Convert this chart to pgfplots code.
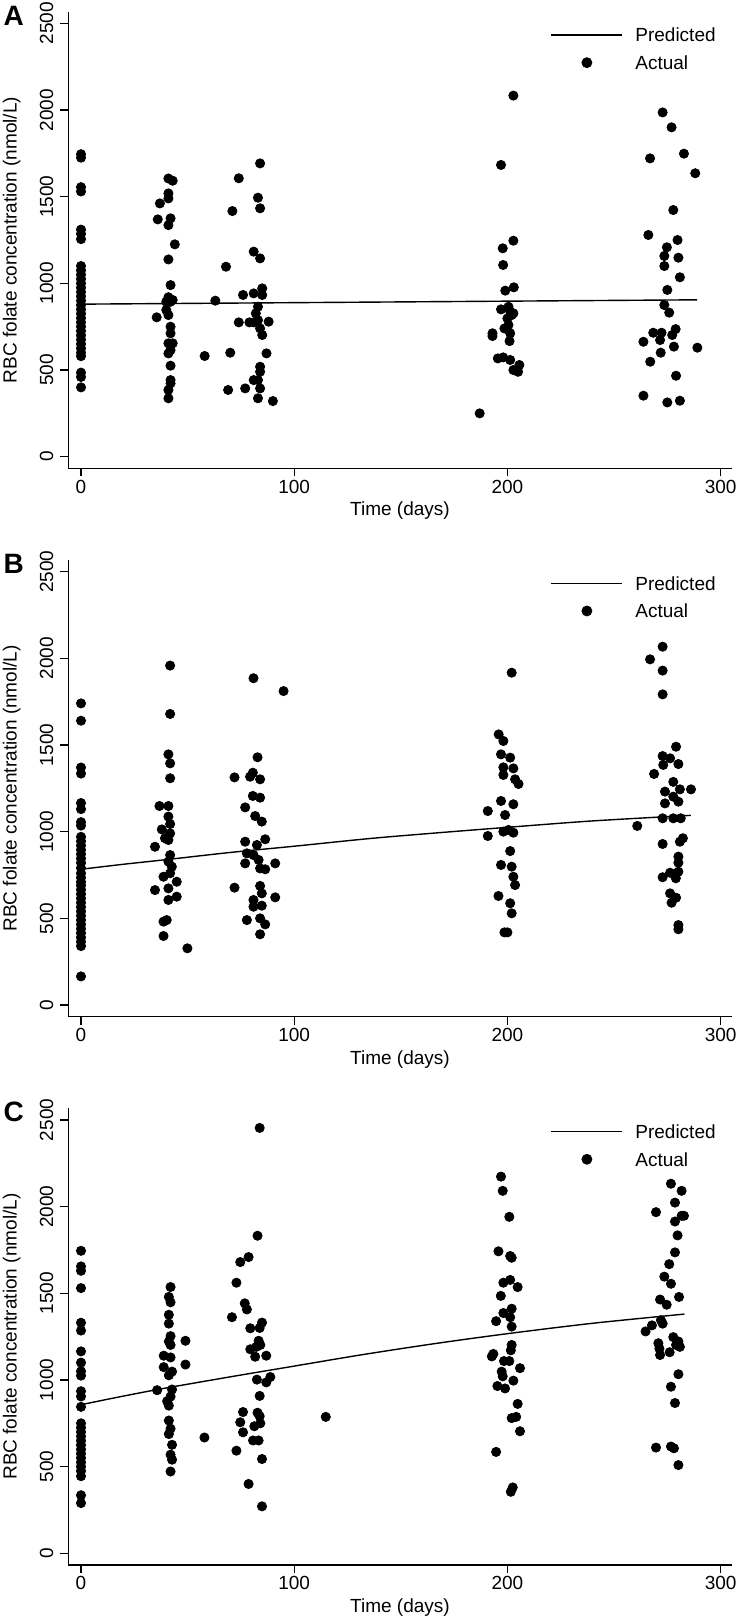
\documentclass[border=0pt]{standalone}
\usepackage{fontspec}
\setmainfont{Liberation Sans}
\usepackage{pgfplots}
\pgfplotsset{compat=1.18}
\pgfplotsset{
 myax/.style={
  scale only axis, width=331.7pt, height=228.3pt,
  xmin=-5.96, xmax=305.2, ymin=-66.9, ymax=2567,
  axis x line*=bottom, axis y line*=left,
  axis line style={line width=0.6pt, black},
  every tick/.style={line width=0.6pt, black},
  tick align=outside, major tick length=4pt,
  xtick={0,100,200,300}, ytick={0,500,1000,1500,2000,2500},
  minor tick num=0,
  ticklabel style={font=\fontsize{9.5}{11}\selectfont},
  yticklabel style={rotate=90, anchor=south},
  xticklabel style={anchor=north, inner sep=1.6pt},
  /pgf/number format/1000 sep={},
  /pgf/number format/assume math mode=true,
  xlabel={Time (days)}, ylabel={RBC folate concentration (nmol/L)},
  label style={font=\fontsize{9.5}{11}\selectfont},
  xlabel style={at={(axis description cs:0.5,-0.0931)}, anchor=center},
  ylabel style={at={(axis description cs:-0.0853,0.5)}, anchor=center},
  legend style={at={(axis cs:220.3,2472)}, anchor=north west, draw=none, fill=none,
    inner sep=0pt, outer sep=0pt, row sep=7.05pt, column sep=6.15pt,
    font=\fontsize{9.5}{11}\selectfont, cells={anchor=west},
    nodes={inner sep=0pt, text height=6.8pt, text depth=0pt}},
 },
 predline/.style={black, line width=0.7pt, no marks,
   legend image code/.code={\draw[black, line width=0.7pt] (0pt,0pt) -- (35.5pt,0pt);}},
 dots/.style={only marks, mark=*, mark size=2.3pt,
   mark options={fill=black, draw=black, line width=0.4pt},
   legend image code/.code={\fill[black] (17.75pt,0pt) circle (2.5pt);}},
}
\begin{document}
\begin{tikzpicture}
\useasboundingbox (0,0) rectangle (369pt,-809pt);
% ---------------- Panel A ----------------
\begin{axis}[myax, at={(34.15pt,-234.15pt)}, anchor=south west]
\addplot[predline] coordinates {(0,880) (289,905)};
\addlegendentry{Predicted}
\addplot[dots] coordinates {
(0,1745)(0,1725)(0,1555)(0,1530)(0,1310)(0,1285)(0,1255)(0,1100)(0,1075)(0,1050)(0,1025)(0,1000)(0,975)(0,950)(0,925)(0,900)(0,875)(0,850)(0,825)(0,800)(0,775)(0,750)(0,725)(0,700)(0,675)(0,650)(0,625)(0,600)(0,580)(0,485)(0,460)(0,400)
(36,1369)(37,1461)(41,1605)(43,1592)(41,1519)(41,1490)(42,1375)(41,1336)(44,1225)(41,1138)(42,990)(41,920)(40,894)(42,894)(43,904)(35.5,804)(40,846)(41,817)(42,750)(42,712)(41,654)(43,654)(42,615)(41,596)(42,525)(42,442)(42,423)(41,385)(41,337)
(58,581)(63,900)(68,1096)(71,1417)(70,600)(69,385)(74,1606)(74,775)(76,933)(77,394)(84,1692)(83,1494)(84,1433)(81,1183)(84,1144)(81,942)(85,971)(85,933)(83,865)(82,827)(79,775)(81,775)(83,788)(84,740)(85,702)(88,779)(87,596)(84,519)(84,490)(81,442)(83,442)(84,394)(83,337)(90,321)
(202.8,2083)(197,1683)(202.8,1246)(197.8,1202)(198,1106)(203,977)(199,958)(197,850)(200.5,865)(201.3,837)(202,817)(200,798)(202.8,827)(198.6,740)(200.5,760)(193,712)(193,696)(201.3,712)(201,667)(195.5,567)(198,573)(201.3,558)(202.8,500)(205.6,529)(205,490)(187,250)
(272.8,1986)(277,1900)(266.9,1721)(282.8,1748)(288.1,1635)(277.8,1423)(266.1,1279)(279.8,1250)(274.8,1208)(273.6,1158)(280.2,1148)(273.6,1100)(280.9,1035)(275,962)(273.6,875)(275.9,831)(268.4,715)(272.3,715)(278.9,736)(277.3,702)(271.6,673)(263.8,663)(278.1,635)(289.1,629)(271.9,600)(267,548)(279.1,467)(263.8,352)(275,313)(280.9,323)
};
\addlegendentry{Actual}
\end{axis}
% ---------------- Panel B ----------------
\begin{axis}[myax, at={(34.15pt,-508.3pt)}, anchor=south west]
\addplot[predline, smooth] coordinates {(0,783)(20,812)(41,840)(70,880)(100,916)(136,961)(170,996)(200,1025)(240,1062)(286,1094)};
\addlegendentry{Predicted}
\addplot[dots] coordinates {
(0,1740)(0,1640)(0,1370)(0,1335)(0,1165)(0,1130)(0,1055)(0,1035)(0,970)(0,945)(0,920)(0,895)(0,870)(0,845)(0,820)(0,790)(0,760)(0,735)(0,710)(0,690)(0,665)(0,640)(0,615)(0,590)(0,565)(0,540)(0,515)(0,490)(0,465)(0,440)(0,415)(0,390)(0,365)(0,340)(0,165)
(41.8,1958)(41.8,1679)(41,1446)(41.8,1394)(41.8,1308)(36.8,1148)(41,1148)(41,1087)(41.8,1044)(37.9,1013)(39.4,962)(41.8,990)(41,952)(34.7,913)(41.8,865)(41,827)(42.6,798)(41.8,760)(38.7,740)(44.9,711)(41,673)(44.9,625)(34.7,663)(41,606)(40.2,490)(38.7,481)(38.7,398)(49.9,327)
(80.9,1885)(95,1811)(82.8,1429)(72,1313)(80.6,1340)(79.3,1317)(84,1302)(80.6,1206)(84,1196)(77,1140)(81.7,1090)(84.8,1058)(77,942)(86.4,956)(82.5,923)(77.8,875)(80.9,865)(77,817)(91.1,817)(83.3,837)(84,788)(86.4,783)(72,677)(84,687)(84.8,644)(91.1,621)(80.9,606)(84.8,573)(80.9,567)(84,500)(77.8,490)(86.4,465)(84,408)
(202,1917)(195.9,1561)(198.1,1523)(197,1446)(201.3,1427)(198.1,1371)(202.8,1365)(198.1,1327)(203.6,1302)(205.2,1275)(197,1177)(202.8,1158)(198.9,1096)(190.8,1119)(200.5,1010)(202.8,994)(198.1,1000)(190.8,975)(201.3,888)(197,808)(202,798)(202.8,740)(203.6,692)(195.8,629)(201.3,587)(202,529)(198.6,419)(200,419)
(272.8,2067)(266.9,1994)(272.8,1929)(272.8,1792)(279.1,1490)(272.8,1436)(276.3,1423)(273.1,1385)(280.2,1390)(268.8,1333)(277.8,1287)(280.9,1244)(286.1,1244)(273.9,1231)(277.8,1202)(273.9,1163)(280.2,1173)(272.8,1077)(277.8,1077)(281.3,1077)(260.9,1033)(282.3,962)(280.9,942)(272.8,929)(280.2,856)(280.2,821)(280.2,769)(276.3,763)(272.8,737)(279,731)(276.3,644)(279.1,619)(277,590)(280.2,461)(280.2,437)
};
\addlegendentry{Actual}
\end{axis}
% ---------------- Panel C ----------------
\begin{axis}[myax, at={(34.15pt,-782.45pt)}, anchor=south west]
\addplot[predline, smooth] coordinates {(0,857)(15,895)(36,945)(70,1018)(100,1080)(131,1144)(165,1208)(200,1267)(240,1327)(283,1380)};
\addlegendentry{Predicted}
\addplot[dots] coordinates {
(0,1745)(0,1655)(0,1630)(0,1530)(0,1330)(0,1285)(0,1165)(0,1100)(0,1050)(0,1025)(0,935)(0,905)(0,845)(0,750)(0,725)(0,700)(0,675)(0,650)(0,625)(0,600)(0,575)(0,550)(0,525)(0,500)(0,475)(0,445)(0,335)(0,290)
(42,1536)(41.2,1479)(42,1448)(41.2,1376)(41.2,1325)(42,1253)(41.2,1222)(49,1226)(42,1202)(38.8,1140)(42,1130)(49,1089)(38.8,1074)(42.7,1048)(41.2,1027)(35.7,941)(42.7,945)(42,904)(40.4,877)(41.2,852)(41.2,766)(42,719)(41.2,688)(42.7,626)(42,569)(42.7,540)(42,472)(57.9,668)
(83.8,2454)(82.8,1832)(78.6,1709)(74.7,1680)(72.9,1561)(76.8,1442)(77.8,1407)(70.8,1362)(79.4,1298)(84.9,1331)(83.8,1300)(83.3,1226)(82.2,1191)(79.4,1177)(81.7,1134)(86.9,1140)(84.1,1202)(82.5,1002)(88.8,1017)(86.9,986)(83.8,908)(76,815)(82.8,811)(83.8,791)(74.7,756)(81.3,733)(84.1,750)(76,698)(80.7,651)(83.3,651)(72.9,592)(84.9,544)(78.6,400)(84.9,271)(114.8,787)
(197,2173)(197.8,2091)(200.9,1941)(195.8,1742)(201.3,1715)(202,1705)(198.1,1561)(201.3,1577)(204.8,1536)(196.9,1485)(202,1411)(198.1,1386)(201.3,1362)(194.7,1339)(202,1308)(202,1202)(201.6,1171)(193.4,1150)(192.7,1136)(198.4,1109)(200.9,1109)(205.9,1068)(197.3,1048)(197.8,1021)(195.3,965)(198.9,951)(202.8,996)(204.8,862)(202,780)(204.1,787)(205.9,704)(194.7,585)(202.5,380)(201.6,355)
(276.7,2132)(281.7,2091)(278.6,2023)(269.7,1968)(278.6,1914)(281.7,1947)(282.8,1947)(279.8,1834)(278.6,1736)(275.9,1668)(273.6,1596)(276.7,1555)(280.5,1479)(271.6,1464)(274.7,1434)(272,1345)(272.8,1325)(264.8,1280)(267.8,1315)(277.8,1247)(280.2,1222)(279.1,1202)(270.8,1212)(271.3,1181)(276.1,1160)(280.9,1191)(271.6,1144)(280.2,1033)(276.7,961)(278.6,867)(269.7,610)(276.7,616)(278.1,606)(280.2,509)
};
\addlegendentry{Actual}
\end{axis}
% panel letters
\node[anchor=base west, inner sep=0pt, font=\bfseries\fontsize{14}{16}\selectfont] at (1.65pt,-12.5pt) {A};
\node[anchor=base west, inner sep=0pt, font=\bfseries\fontsize{14}{16}\selectfont] at (1.65pt,-286.65pt) {B};
\node[anchor=base west, inner sep=0pt, font=\bfseries\fontsize{14}{16}\selectfont] at (1.65pt,-560.8pt) {C};
\end{tikzpicture}
\end{document}
